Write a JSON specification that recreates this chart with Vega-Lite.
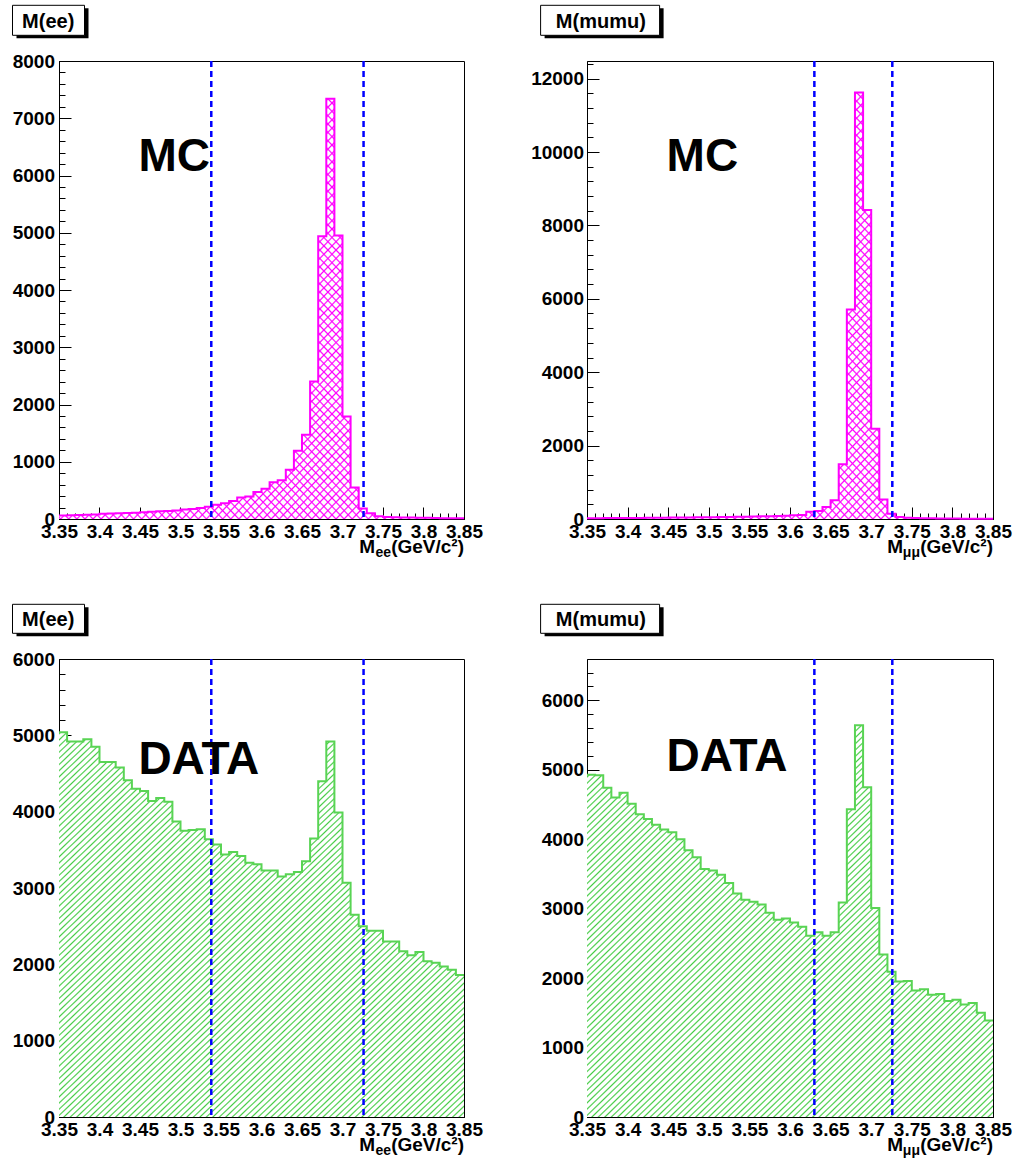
{
"$schema":"https://vega.github.io/schema/vega-lite/v6.json",
"background":"white",
"padding":{"left":11,"top":4,"right":10,"bottom":10},
"params":[
{"name":"gh","value":{"gradient":"linear","x1":0,"y1":0,"x2":1,"y2":1,"stops":[
{"offset":0,"color":"#fff"},{"offset":0.002,"color":"#4c4"},{"offset":0.004,"color":"#fff"},
{"offset":0.008,"color":"#fff"},{"offset":0.01,"color":"#4c4"},{"offset":0.012,"color":"#fff"},
{"offset":0.016,"color":"#fff"},{"offset":0.018,"color":"#4c4"},{"offset":0.02,"color":"#fff"},
{"offset":0.024,"color":"#fff"},{"offset":0.026,"color":"#4c4"},{"offset":0.028,"color":"#fff"},
{"offset":0.032,"color":"#fff"},{"offset":0.034,"color":"#4c4"},{"offset":0.036,"color":"#fff"},
{"offset":0.04,"color":"#fff"},{"offset":0.042,"color":"#4c4"},{"offset":0.044,"color":"#fff"},
{"offset":0.048,"color":"#fff"},{"offset":0.05,"color":"#4c4"},{"offset":0.052,"color":"#fff"},
{"offset":0.056,"color":"#fff"},{"offset":0.058,"color":"#4c4"},{"offset":0.06,"color":"#fff"},
{"offset":0.064,"color":"#fff"},{"offset":0.066,"color":"#4c4"},{"offset":0.068,"color":"#fff"},
{"offset":0.072,"color":"#fff"},{"offset":0.074,"color":"#4c4"},{"offset":0.076,"color":"#fff"},
{"offset":0.08,"color":"#fff"},{"offset":0.082,"color":"#4c4"},{"offset":0.084,"color":"#fff"},
{"offset":0.088,"color":"#fff"},{"offset":0.09,"color":"#4c4"},{"offset":0.092,"color":"#fff"},
{"offset":0.096,"color":"#fff"},{"offset":0.098,"color":"#4c4"},{"offset":0.1,"color":"#fff"},
{"offset":0.104,"color":"#fff"},{"offset":0.106,"color":"#4c4"},{"offset":0.108,"color":"#fff"},
{"offset":0.112,"color":"#fff"},{"offset":0.114,"color":"#4c4"},{"offset":0.116,"color":"#fff"},
{"offset":0.12,"color":"#fff"},{"offset":0.122,"color":"#4c4"},{"offset":0.124,"color":"#fff"},
{"offset":0.128,"color":"#fff"},{"offset":0.13,"color":"#4c4"},{"offset":0.132,"color":"#fff"},
{"offset":0.136,"color":"#fff"},{"offset":0.138,"color":"#4c4"},{"offset":0.14,"color":"#fff"},
{"offset":0.144,"color":"#fff"},{"offset":0.146,"color":"#4c4"},{"offset":0.148,"color":"#fff"},
{"offset":0.152,"color":"#fff"},{"offset":0.154,"color":"#4c4"},{"offset":0.156,"color":"#fff"},
{"offset":0.16,"color":"#fff"},{"offset":0.162,"color":"#4c4"},{"offset":0.164,"color":"#fff"},
{"offset":0.168,"color":"#fff"},{"offset":0.17,"color":"#4c4"},{"offset":0.172,"color":"#fff"},
{"offset":0.176,"color":"#fff"},{"offset":0.178,"color":"#4c4"},{"offset":0.18,"color":"#fff"},
{"offset":0.184,"color":"#fff"},{"offset":0.186,"color":"#4c4"},{"offset":0.188,"color":"#fff"},
{"offset":0.192,"color":"#fff"},{"offset":0.194,"color":"#4c4"},{"offset":0.196,"color":"#fff"},
{"offset":0.2,"color":"#fff"},{"offset":0.202,"color":"#4c4"},{"offset":0.204,"color":"#fff"},
{"offset":0.208,"color":"#fff"},{"offset":0.21,"color":"#4c4"},{"offset":0.212,"color":"#fff"},
{"offset":0.216,"color":"#fff"},{"offset":0.218,"color":"#4c4"},{"offset":0.22,"color":"#fff"},
{"offset":0.224,"color":"#fff"},{"offset":0.226,"color":"#4c4"},{"offset":0.228,"color":"#fff"},
{"offset":0.232,"color":"#fff"},{"offset":0.234,"color":"#4c4"},{"offset":0.236,"color":"#fff"},
{"offset":0.24,"color":"#fff"},{"offset":0.242,"color":"#4c4"},{"offset":0.244,"color":"#fff"},
{"offset":0.248,"color":"#fff"},{"offset":0.25,"color":"#4c4"},{"offset":0.252,"color":"#fff"},
{"offset":0.256,"color":"#fff"},{"offset":0.258,"color":"#4c4"},{"offset":0.26,"color":"#fff"},
{"offset":0.264,"color":"#fff"},{"offset":0.266,"color":"#4c4"},{"offset":0.268,"color":"#fff"},
{"offset":0.272,"color":"#fff"},{"offset":0.274,"color":"#4c4"},{"offset":0.276,"color":"#fff"},
{"offset":0.28,"color":"#fff"},{"offset":0.282,"color":"#4c4"},{"offset":0.284,"color":"#fff"},
{"offset":0.288,"color":"#fff"},{"offset":0.29,"color":"#4c4"},{"offset":0.292,"color":"#fff"},
{"offset":0.296,"color":"#fff"},{"offset":0.298,"color":"#4c4"},{"offset":0.3,"color":"#fff"},
{"offset":0.304,"color":"#fff"},{"offset":0.306,"color":"#4c4"},{"offset":0.308,"color":"#fff"},
{"offset":0.312,"color":"#fff"},{"offset":0.314,"color":"#4c4"},{"offset":0.316,"color":"#fff"},
{"offset":0.32,"color":"#fff"},{"offset":0.322,"color":"#4c4"},{"offset":0.324,"color":"#fff"},
{"offset":0.328,"color":"#fff"},{"offset":0.33,"color":"#4c4"},{"offset":0.332,"color":"#fff"},
{"offset":0.336,"color":"#fff"},{"offset":0.338,"color":"#4c4"},{"offset":0.34,"color":"#fff"},
{"offset":0.344,"color":"#fff"},{"offset":0.346,"color":"#4c4"},{"offset":0.348,"color":"#fff"},
{"offset":0.352,"color":"#fff"},{"offset":0.354,"color":"#4c4"},{"offset":0.356,"color":"#fff"},
{"offset":0.36,"color":"#fff"},{"offset":0.362,"color":"#4c4"},{"offset":0.364,"color":"#fff"},
{"offset":0.368,"color":"#fff"},{"offset":0.37,"color":"#4c4"},{"offset":0.372,"color":"#fff"},
{"offset":0.376,"color":"#fff"},{"offset":0.378,"color":"#4c4"},{"offset":0.38,"color":"#fff"},
{"offset":0.384,"color":"#fff"},{"offset":0.386,"color":"#4c4"},{"offset":0.388,"color":"#fff"},
{"offset":0.392,"color":"#fff"},{"offset":0.394,"color":"#4c4"},{"offset":0.396,"color":"#fff"},
{"offset":0.4,"color":"#fff"},{"offset":0.402,"color":"#4c4"},{"offset":0.404,"color":"#fff"},
{"offset":0.408,"color":"#fff"},{"offset":0.41,"color":"#4c4"},{"offset":0.412,"color":"#fff"},
{"offset":0.416,"color":"#fff"},{"offset":0.418,"color":"#4c4"},{"offset":0.42,"color":"#fff"},
{"offset":0.424,"color":"#fff"},{"offset":0.426,"color":"#4c4"},{"offset":0.428,"color":"#fff"},
{"offset":0.432,"color":"#fff"},{"offset":0.434,"color":"#4c4"},{"offset":0.436,"color":"#fff"},
{"offset":0.44,"color":"#fff"},{"offset":0.442,"color":"#4c4"},{"offset":0.444,"color":"#fff"},
{"offset":0.448,"color":"#fff"},{"offset":0.45,"color":"#4c4"},{"offset":0.452,"color":"#fff"},
{"offset":0.456,"color":"#fff"},{"offset":0.458,"color":"#4c4"},{"offset":0.46,"color":"#fff"},
{"offset":0.464,"color":"#fff"},{"offset":0.466,"color":"#4c4"},{"offset":0.468,"color":"#fff"},
{"offset":0.472,"color":"#fff"},{"offset":0.474,"color":"#4c4"},{"offset":0.476,"color":"#fff"},
{"offset":0.48,"color":"#fff"},{"offset":0.482,"color":"#4c4"},{"offset":0.484,"color":"#fff"},
{"offset":0.488,"color":"#fff"},{"offset":0.49,"color":"#4c4"},{"offset":0.492,"color":"#fff"},
{"offset":0.496,"color":"#fff"},{"offset":0.498,"color":"#4c4"},{"offset":0.5,"color":"#fff"},
{"offset":0.504,"color":"#fff"},{"offset":0.506,"color":"#4c4"},{"offset":0.508,"color":"#fff"},
{"offset":0.512,"color":"#fff"},{"offset":0.514,"color":"#4c4"},{"offset":0.516,"color":"#fff"},
{"offset":0.52,"color":"#fff"},{"offset":0.522,"color":"#4c4"},{"offset":0.524,"color":"#fff"},
{"offset":0.528,"color":"#fff"},{"offset":0.53,"color":"#4c4"},{"offset":0.532,"color":"#fff"},
{"offset":0.536,"color":"#fff"},{"offset":0.538,"color":"#4c4"},{"offset":0.54,"color":"#fff"},
{"offset":0.544,"color":"#fff"},{"offset":0.546,"color":"#4c4"},{"offset":0.548,"color":"#fff"},
{"offset":0.552,"color":"#fff"},{"offset":0.554,"color":"#4c4"},{"offset":0.556,"color":"#fff"},
{"offset":0.56,"color":"#fff"},{"offset":0.562,"color":"#4c4"},{"offset":0.564,"color":"#fff"},
{"offset":0.568,"color":"#fff"},{"offset":0.57,"color":"#4c4"},{"offset":0.572,"color":"#fff"},
{"offset":0.576,"color":"#fff"},{"offset":0.578,"color":"#4c4"},{"offset":0.58,"color":"#fff"},
{"offset":0.584,"color":"#fff"},{"offset":0.586,"color":"#4c4"},{"offset":0.588,"color":"#fff"},
{"offset":0.592,"color":"#fff"},{"offset":0.594,"color":"#4c4"},{"offset":0.596,"color":"#fff"},
{"offset":0.6,"color":"#fff"},{"offset":0.602,"color":"#4c4"},{"offset":0.604,"color":"#fff"},
{"offset":0.608,"color":"#fff"},{"offset":0.61,"color":"#4c4"},{"offset":0.612,"color":"#fff"},
{"offset":0.616,"color":"#fff"},{"offset":0.618,"color":"#4c4"},{"offset":0.62,"color":"#fff"},
{"offset":0.624,"color":"#fff"},{"offset":0.626,"color":"#4c4"},{"offset":0.628,"color":"#fff"},
{"offset":0.632,"color":"#fff"},{"offset":0.634,"color":"#4c4"},{"offset":0.636,"color":"#fff"},
{"offset":0.64,"color":"#fff"},{"offset":0.642,"color":"#4c4"},{"offset":0.644,"color":"#fff"},
{"offset":0.648,"color":"#fff"},{"offset":0.65,"color":"#4c4"},{"offset":0.652,"color":"#fff"},
{"offset":0.656,"color":"#fff"},{"offset":0.658,"color":"#4c4"},{"offset":0.66,"color":"#fff"},
{"offset":0.664,"color":"#fff"},{"offset":0.666,"color":"#4c4"},{"offset":0.668,"color":"#fff"},
{"offset":0.672,"color":"#fff"},{"offset":0.674,"color":"#4c4"},{"offset":0.676,"color":"#fff"},
{"offset":0.68,"color":"#fff"},{"offset":0.682,"color":"#4c4"},{"offset":0.684,"color":"#fff"},
{"offset":0.688,"color":"#fff"},{"offset":0.69,"color":"#4c4"},{"offset":0.692,"color":"#fff"},
{"offset":0.696,"color":"#fff"},{"offset":0.698,"color":"#4c4"},{"offset":0.7,"color":"#fff"},
{"offset":0.704,"color":"#fff"},{"offset":0.706,"color":"#4c4"},{"offset":0.708,"color":"#fff"},
{"offset":0.712,"color":"#fff"},{"offset":0.714,"color":"#4c4"},{"offset":0.716,"color":"#fff"},
{"offset":0.72,"color":"#fff"},{"offset":0.722,"color":"#4c4"},{"offset":0.724,"color":"#fff"},
{"offset":0.728,"color":"#fff"},{"offset":0.73,"color":"#4c4"},{"offset":0.732,"color":"#fff"},
{"offset":0.736,"color":"#fff"},{"offset":0.738,"color":"#4c4"},{"offset":0.74,"color":"#fff"},
{"offset":0.744,"color":"#fff"},{"offset":0.746,"color":"#4c4"},{"offset":0.748,"color":"#fff"},
{"offset":0.752,"color":"#fff"},{"offset":0.754,"color":"#4c4"},{"offset":0.756,"color":"#fff"},
{"offset":0.76,"color":"#fff"},{"offset":0.762,"color":"#4c4"},{"offset":0.764,"color":"#fff"},
{"offset":0.768,"color":"#fff"},{"offset":0.77,"color":"#4c4"},{"offset":0.772,"color":"#fff"},
{"offset":0.776,"color":"#fff"},{"offset":0.778,"color":"#4c4"},{"offset":0.78,"color":"#fff"},
{"offset":0.784,"color":"#fff"},{"offset":0.786,"color":"#4c4"},{"offset":0.788,"color":"#fff"},
{"offset":0.792,"color":"#fff"},{"offset":0.794,"color":"#4c4"},{"offset":0.796,"color":"#fff"},
{"offset":0.8,"color":"#fff"},{"offset":0.802,"color":"#4c4"},{"offset":0.804,"color":"#fff"},
{"offset":0.808,"color":"#fff"},{"offset":0.81,"color":"#4c4"},{"offset":0.812,"color":"#fff"},
{"offset":0.816,"color":"#fff"},{"offset":0.818,"color":"#4c4"},{"offset":0.82,"color":"#fff"},
{"offset":0.824,"color":"#fff"},{"offset":0.826,"color":"#4c4"},{"offset":0.828,"color":"#fff"},
{"offset":0.832,"color":"#fff"},{"offset":0.834,"color":"#4c4"},{"offset":0.836,"color":"#fff"},
{"offset":0.84,"color":"#fff"},{"offset":0.842,"color":"#4c4"},{"offset":0.844,"color":"#fff"},
{"offset":0.848,"color":"#fff"},{"offset":0.85,"color":"#4c4"},{"offset":0.852,"color":"#fff"},
{"offset":0.856,"color":"#fff"},{"offset":0.858,"color":"#4c4"},{"offset":0.86,"color":"#fff"},
{"offset":0.864,"color":"#fff"},{"offset":0.866,"color":"#4c4"},{"offset":0.868,"color":"#fff"},
{"offset":0.872,"color":"#fff"},{"offset":0.874,"color":"#4c4"},{"offset":0.876,"color":"#fff"},
{"offset":0.88,"color":"#fff"},{"offset":0.882,"color":"#4c4"},{"offset":0.884,"color":"#fff"},
{"offset":0.888,"color":"#fff"},{"offset":0.89,"color":"#4c4"},{"offset":0.892,"color":"#fff"},
{"offset":0.896,"color":"#fff"},{"offset":0.898,"color":"#4c4"},{"offset":0.9,"color":"#fff"},
{"offset":0.904,"color":"#fff"},{"offset":0.906,"color":"#4c4"},{"offset":0.908,"color":"#fff"},
{"offset":0.912,"color":"#fff"},{"offset":0.914,"color":"#4c4"},{"offset":0.916,"color":"#fff"},
{"offset":0.92,"color":"#fff"},{"offset":0.922,"color":"#4c4"},{"offset":0.924,"color":"#fff"},
{"offset":0.928,"color":"#fff"},{"offset":0.93,"color":"#4c4"},{"offset":0.932,"color":"#fff"},
{"offset":0.936,"color":"#fff"},{"offset":0.938,"color":"#4c4"},{"offset":0.94,"color":"#fff"},
{"offset":0.944,"color":"#fff"},{"offset":0.946,"color":"#4c4"},{"offset":0.948,"color":"#fff"},
{"offset":0.952,"color":"#fff"},{"offset":0.954,"color":"#4c4"},{"offset":0.956,"color":"#fff"},
{"offset":0.96,"color":"#fff"},{"offset":0.962,"color":"#4c4"},{"offset":0.964,"color":"#fff"},
{"offset":0.968,"color":"#fff"},{"offset":0.97,"color":"#4c4"},{"offset":0.972,"color":"#fff"},
{"offset":0.976,"color":"#fff"},{"offset":0.978,"color":"#4c4"},{"offset":0.98,"color":"#fff"},
{"offset":0.984,"color":"#fff"},{"offset":0.986,"color":"#4c4"},{"offset":0.988,"color":"#fff"},
{"offset":0.992,"color":"#fff"},{"offset":0.994,"color":"#4c4"},{"offset":0.996,"color":"#fff"}
]}},
{"name":"m1","value":{"gradient":"linear","x1":0,"y1":0,"x2":1,"y2":1,"stops":[
{"offset":0,"color":"#fff"},{"offset":0.002,"color":"#f0f"},{"offset":0.004,"color":"#fff"},
{"offset":0.01,"color":"#fff"},{"offset":0.012,"color":"#f0f"},{"offset":0.014,"color":"#fff"},
{"offset":0.02,"color":"#fff"},{"offset":0.022,"color":"#f0f"},{"offset":0.024,"color":"#fff"},
{"offset":0.03,"color":"#fff"},{"offset":0.032,"color":"#f0f"},{"offset":0.034,"color":"#fff"},
{"offset":0.04,"color":"#fff"},{"offset":0.042,"color":"#f0f"},{"offset":0.044,"color":"#fff"},
{"offset":0.05,"color":"#fff"},{"offset":0.052,"color":"#f0f"},{"offset":0.054,"color":"#fff"},
{"offset":0.06,"color":"#fff"},{"offset":0.062,"color":"#f0f"},{"offset":0.064,"color":"#fff"},
{"offset":0.07,"color":"#fff"},{"offset":0.072,"color":"#f0f"},{"offset":0.074,"color":"#fff"},
{"offset":0.08,"color":"#fff"},{"offset":0.082,"color":"#f0f"},{"offset":0.084,"color":"#fff"},
{"offset":0.09,"color":"#fff"},{"offset":0.092,"color":"#f0f"},{"offset":0.094,"color":"#fff"},
{"offset":0.1,"color":"#fff"},{"offset":0.102,"color":"#f0f"},{"offset":0.104,"color":"#fff"},
{"offset":0.11,"color":"#fff"},{"offset":0.112,"color":"#f0f"},{"offset":0.114,"color":"#fff"},
{"offset":0.12,"color":"#fff"},{"offset":0.122,"color":"#f0f"},{"offset":0.124,"color":"#fff"},
{"offset":0.13,"color":"#fff"},{"offset":0.132,"color":"#f0f"},{"offset":0.134,"color":"#fff"},
{"offset":0.14,"color":"#fff"},{"offset":0.142,"color":"#f0f"},{"offset":0.144,"color":"#fff"},
{"offset":0.15,"color":"#fff"},{"offset":0.152,"color":"#f0f"},{"offset":0.154,"color":"#fff"},
{"offset":0.16,"color":"#fff"},{"offset":0.162,"color":"#f0f"},{"offset":0.164,"color":"#fff"},
{"offset":0.17,"color":"#fff"},{"offset":0.172,"color":"#f0f"},{"offset":0.174,"color":"#fff"},
{"offset":0.18,"color":"#fff"},{"offset":0.182,"color":"#f0f"},{"offset":0.184,"color":"#fff"},
{"offset":0.19,"color":"#fff"},{"offset":0.192,"color":"#f0f"},{"offset":0.194,"color":"#fff"},
{"offset":0.2,"color":"#fff"},{"offset":0.202,"color":"#f0f"},{"offset":0.204,"color":"#fff"},
{"offset":0.21,"color":"#fff"},{"offset":0.212,"color":"#f0f"},{"offset":0.214,"color":"#fff"},
{"offset":0.22,"color":"#fff"},{"offset":0.222,"color":"#f0f"},{"offset":0.224,"color":"#fff"},
{"offset":0.23,"color":"#fff"},{"offset":0.232,"color":"#f0f"},{"offset":0.234,"color":"#fff"},
{"offset":0.24,"color":"#fff"},{"offset":0.242,"color":"#f0f"},{"offset":0.244,"color":"#fff"},
{"offset":0.25,"color":"#fff"},{"offset":0.252,"color":"#f0f"},{"offset":0.254,"color":"#fff"},
{"offset":0.26,"color":"#fff"},{"offset":0.262,"color":"#f0f"},{"offset":0.264,"color":"#fff"},
{"offset":0.27,"color":"#fff"},{"offset":0.272,"color":"#f0f"},{"offset":0.274,"color":"#fff"},
{"offset":0.28,"color":"#fff"},{"offset":0.282,"color":"#f0f"},{"offset":0.284,"color":"#fff"},
{"offset":0.29,"color":"#fff"},{"offset":0.292,"color":"#f0f"},{"offset":0.294,"color":"#fff"},
{"offset":0.3,"color":"#fff"},{"offset":0.302,"color":"#f0f"},{"offset":0.304,"color":"#fff"},
{"offset":0.31,"color":"#fff"},{"offset":0.312,"color":"#f0f"},{"offset":0.314,"color":"#fff"},
{"offset":0.32,"color":"#fff"},{"offset":0.322,"color":"#f0f"},{"offset":0.324,"color":"#fff"},
{"offset":0.33,"color":"#fff"},{"offset":0.332,"color":"#f0f"},{"offset":0.334,"color":"#fff"},
{"offset":0.34,"color":"#fff"},{"offset":0.342,"color":"#f0f"},{"offset":0.344,"color":"#fff"},
{"offset":0.35,"color":"#fff"},{"offset":0.352,"color":"#f0f"},{"offset":0.354,"color":"#fff"},
{"offset":0.36,"color":"#fff"},{"offset":0.362,"color":"#f0f"},{"offset":0.364,"color":"#fff"},
{"offset":0.37,"color":"#fff"},{"offset":0.372,"color":"#f0f"},{"offset":0.374,"color":"#fff"},
{"offset":0.38,"color":"#fff"},{"offset":0.382,"color":"#f0f"},{"offset":0.384,"color":"#fff"},
{"offset":0.39,"color":"#fff"},{"offset":0.392,"color":"#f0f"},{"offset":0.394,"color":"#fff"},
{"offset":0.4,"color":"#fff"},{"offset":0.402,"color":"#f0f"},{"offset":0.404,"color":"#fff"},
{"offset":0.41,"color":"#fff"},{"offset":0.412,"color":"#f0f"},{"offset":0.414,"color":"#fff"},
{"offset":0.42,"color":"#fff"},{"offset":0.422,"color":"#f0f"},{"offset":0.424,"color":"#fff"},
{"offset":0.43,"color":"#fff"},{"offset":0.432,"color":"#f0f"},{"offset":0.434,"color":"#fff"},
{"offset":0.44,"color":"#fff"},{"offset":0.442,"color":"#f0f"},{"offset":0.444,"color":"#fff"},
{"offset":0.45,"color":"#fff"},{"offset":0.452,"color":"#f0f"},{"offset":0.454,"color":"#fff"},
{"offset":0.46,"color":"#fff"},{"offset":0.462,"color":"#f0f"},{"offset":0.464,"color":"#fff"},
{"offset":0.47,"color":"#fff"},{"offset":0.472,"color":"#f0f"},{"offset":0.474,"color":"#fff"},
{"offset":0.48,"color":"#fff"},{"offset":0.482,"color":"#f0f"},{"offset":0.484,"color":"#fff"},
{"offset":0.49,"color":"#fff"},{"offset":0.492,"color":"#f0f"},{"offset":0.494,"color":"#fff"},
{"offset":0.5,"color":"#fff"},{"offset":0.502,"color":"#f0f"},{"offset":0.504,"color":"#fff"},
{"offset":0.51,"color":"#fff"},{"offset":0.512,"color":"#f0f"},{"offset":0.514,"color":"#fff"},
{"offset":0.52,"color":"#fff"},{"offset":0.522,"color":"#f0f"},{"offset":0.524,"color":"#fff"},
{"offset":0.53,"color":"#fff"},{"offset":0.532,"color":"#f0f"},{"offset":0.534,"color":"#fff"},
{"offset":0.54,"color":"#fff"},{"offset":0.542,"color":"#f0f"},{"offset":0.544,"color":"#fff"},
{"offset":0.55,"color":"#fff"},{"offset":0.552,"color":"#f0f"},{"offset":0.554,"color":"#fff"},
{"offset":0.56,"color":"#fff"},{"offset":0.562,"color":"#f0f"},{"offset":0.564,"color":"#fff"},
{"offset":0.57,"color":"#fff"},{"offset":0.572,"color":"#f0f"},{"offset":0.574,"color":"#fff"},
{"offset":0.58,"color":"#fff"},{"offset":0.582,"color":"#f0f"},{"offset":0.584,"color":"#fff"},
{"offset":0.59,"color":"#fff"},{"offset":0.592,"color":"#f0f"},{"offset":0.594,"color":"#fff"},
{"offset":0.6,"color":"#fff"},{"offset":0.602,"color":"#f0f"},{"offset":0.604,"color":"#fff"},
{"offset":0.61,"color":"#fff"},{"offset":0.612,"color":"#f0f"},{"offset":0.614,"color":"#fff"},
{"offset":0.62,"color":"#fff"},{"offset":0.622,"color":"#f0f"},{"offset":0.624,"color":"#fff"},
{"offset":0.63,"color":"#fff"},{"offset":0.632,"color":"#f0f"},{"offset":0.634,"color":"#fff"},
{"offset":0.64,"color":"#fff"},{"offset":0.642,"color":"#f0f"},{"offset":0.644,"color":"#fff"},
{"offset":0.65,"color":"#fff"},{"offset":0.652,"color":"#f0f"},{"offset":0.654,"color":"#fff"},
{"offset":0.66,"color":"#fff"},{"offset":0.662,"color":"#f0f"},{"offset":0.664,"color":"#fff"},
{"offset":0.67,"color":"#fff"},{"offset":0.672,"color":"#f0f"},{"offset":0.674,"color":"#fff"},
{"offset":0.68,"color":"#fff"},{"offset":0.682,"color":"#f0f"},{"offset":0.684,"color":"#fff"},
{"offset":0.69,"color":"#fff"},{"offset":0.692,"color":"#f0f"},{"offset":0.694,"color":"#fff"},
{"offset":0.7,"color":"#fff"},{"offset":0.702,"color":"#f0f"},{"offset":0.704,"color":"#fff"},
{"offset":0.71,"color":"#fff"},{"offset":0.712,"color":"#f0f"},{"offset":0.714,"color":"#fff"},
{"offset":0.72,"color":"#fff"},{"offset":0.722,"color":"#f0f"},{"offset":0.724,"color":"#fff"},
{"offset":0.73,"color":"#fff"},{"offset":0.732,"color":"#f0f"},{"offset":0.734,"color":"#fff"},
{"offset":0.74,"color":"#fff"},{"offset":0.742,"color":"#f0f"},{"offset":0.744,"color":"#fff"},
{"offset":0.75,"color":"#fff"},{"offset":0.752,"color":"#f0f"},{"offset":0.754,"color":"#fff"},
{"offset":0.76,"color":"#fff"},{"offset":0.762,"color":"#f0f"},{"offset":0.764,"color":"#fff"},
{"offset":0.77,"color":"#fff"},{"offset":0.772,"color":"#f0f"},{"offset":0.774,"color":"#fff"},
{"offset":0.78,"color":"#fff"},{"offset":0.782,"color":"#f0f"},{"offset":0.784,"color":"#fff"},
{"offset":0.79,"color":"#fff"},{"offset":0.792,"color":"#f0f"},{"offset":0.794,"color":"#fff"},
{"offset":0.8,"color":"#fff"},{"offset":0.802,"color":"#f0f"},{"offset":0.804,"color":"#fff"},
{"offset":0.81,"color":"#fff"},{"offset":0.812,"color":"#f0f"},{"offset":0.814,"color":"#fff"},
{"offset":0.82,"color":"#fff"},{"offset":0.822,"color":"#f0f"},{"offset":0.824,"color":"#fff"},
{"offset":0.83,"color":"#fff"},{"offset":0.832,"color":"#f0f"},{"offset":0.834,"color":"#fff"},
{"offset":0.84,"color":"#fff"},{"offset":0.842,"color":"#f0f"},{"offset":0.844,"color":"#fff"},
{"offset":0.85,"color":"#fff"},{"offset":0.852,"color":"#f0f"},{"offset":0.854,"color":"#fff"},
{"offset":0.86,"color":"#fff"},{"offset":0.862,"color":"#f0f"},{"offset":0.864,"color":"#fff"},
{"offset":0.87,"color":"#fff"},{"offset":0.872,"color":"#f0f"},{"offset":0.874,"color":"#fff"},
{"offset":0.88,"color":"#fff"},{"offset":0.882,"color":"#f0f"},{"offset":0.884,"color":"#fff"},
{"offset":0.89,"color":"#fff"},{"offset":0.892,"color":"#f0f"},{"offset":0.894,"color":"#fff"},
{"offset":0.9,"color":"#fff"},{"offset":0.902,"color":"#f0f"},{"offset":0.904,"color":"#fff"},
{"offset":0.91,"color":"#fff"},{"offset":0.912,"color":"#f0f"},{"offset":0.914,"color":"#fff"},
{"offset":0.92,"color":"#fff"},{"offset":0.922,"color":"#f0f"},{"offset":0.924,"color":"#fff"},
{"offset":0.93,"color":"#fff"},{"offset":0.932,"color":"#f0f"},{"offset":0.934,"color":"#fff"},
{"offset":0.94,"color":"#fff"},{"offset":0.942,"color":"#f0f"},{"offset":0.944,"color":"#fff"},
{"offset":0.95,"color":"#fff"},{"offset":0.952,"color":"#f0f"},{"offset":0.954,"color":"#fff"},
{"offset":0.96,"color":"#fff"},{"offset":0.962,"color":"#f0f"},{"offset":0.964,"color":"#fff"},
{"offset":0.97,"color":"#fff"},{"offset":0.972,"color":"#f0f"},{"offset":0.974,"color":"#fff"},
{"offset":0.98,"color":"#fff"},{"offset":0.982,"color":"#f0f"},{"offset":0.984,"color":"#fff"},
{"offset":0.99,"color":"#fff"},{"offset":0.992,"color":"#f0f"},{"offset":0.994,"color":"#fff"}
]}},
{"name":"m2","value":{"gradient":"linear","x1":0,"y1":1,"x2":1,"y2":0,"stops":[
{"offset":0,"color":"#f0f0"},{"offset":0.002,"color":"#f0f"},{"offset":0.004,"color":"#f0f0"},
{"offset":0.01,"color":"#f0f0"},{"offset":0.012,"color":"#f0f"},{"offset":0.014,"color":"#f0f0"},
{"offset":0.02,"color":"#f0f0"},{"offset":0.022,"color":"#f0f"},{"offset":0.024,"color":"#f0f0"},
{"offset":0.03,"color":"#f0f0"},{"offset":0.032,"color":"#f0f"},{"offset":0.034,"color":"#f0f0"},
{"offset":0.04,"color":"#f0f0"},{"offset":0.042,"color":"#f0f"},{"offset":0.044,"color":"#f0f0"},
{"offset":0.05,"color":"#f0f0"},{"offset":0.052,"color":"#f0f"},{"offset":0.054,"color":"#f0f0"},
{"offset":0.06,"color":"#f0f0"},{"offset":0.062,"color":"#f0f"},{"offset":0.064,"color":"#f0f0"},
{"offset":0.07,"color":"#f0f0"},{"offset":0.072,"color":"#f0f"},{"offset":0.074,"color":"#f0f0"},
{"offset":0.08,"color":"#f0f0"},{"offset":0.082,"color":"#f0f"},{"offset":0.084,"color":"#f0f0"},
{"offset":0.09,"color":"#f0f0"},{"offset":0.092,"color":"#f0f"},{"offset":0.094,"color":"#f0f0"},
{"offset":0.1,"color":"#f0f0"},{"offset":0.102,"color":"#f0f"},{"offset":0.104,"color":"#f0f0"},
{"offset":0.11,"color":"#f0f0"},{"offset":0.112,"color":"#f0f"},{"offset":0.114,"color":"#f0f0"},
{"offset":0.12,"color":"#f0f0"},{"offset":0.122,"color":"#f0f"},{"offset":0.124,"color":"#f0f0"},
{"offset":0.13,"color":"#f0f0"},{"offset":0.132,"color":"#f0f"},{"offset":0.134,"color":"#f0f0"},
{"offset":0.14,"color":"#f0f0"},{"offset":0.142,"color":"#f0f"},{"offset":0.144,"color":"#f0f0"},
{"offset":0.15,"color":"#f0f0"},{"offset":0.152,"color":"#f0f"},{"offset":0.154,"color":"#f0f0"},
{"offset":0.16,"color":"#f0f0"},{"offset":0.162,"color":"#f0f"},{"offset":0.164,"color":"#f0f0"},
{"offset":0.17,"color":"#f0f0"},{"offset":0.172,"color":"#f0f"},{"offset":0.174,"color":"#f0f0"},
{"offset":0.18,"color":"#f0f0"},{"offset":0.182,"color":"#f0f"},{"offset":0.184,"color":"#f0f0"},
{"offset":0.19,"color":"#f0f0"},{"offset":0.192,"color":"#f0f"},{"offset":0.194,"color":"#f0f0"},
{"offset":0.2,"color":"#f0f0"},{"offset":0.202,"color":"#f0f"},{"offset":0.204,"color":"#f0f0"},
{"offset":0.21,"color":"#f0f0"},{"offset":0.212,"color":"#f0f"},{"offset":0.214,"color":"#f0f0"},
{"offset":0.22,"color":"#f0f0"},{"offset":0.222,"color":"#f0f"},{"offset":0.224,"color":"#f0f0"},
{"offset":0.23,"color":"#f0f0"},{"offset":0.232,"color":"#f0f"},{"offset":0.234,"color":"#f0f0"},
{"offset":0.24,"color":"#f0f0"},{"offset":0.242,"color":"#f0f"},{"offset":0.244,"color":"#f0f0"},
{"offset":0.25,"color":"#f0f0"},{"offset":0.252,"color":"#f0f"},{"offset":0.254,"color":"#f0f0"},
{"offset":0.26,"color":"#f0f0"},{"offset":0.262,"color":"#f0f"},{"offset":0.264,"color":"#f0f0"},
{"offset":0.27,"color":"#f0f0"},{"offset":0.272,"color":"#f0f"},{"offset":0.274,"color":"#f0f0"},
{"offset":0.28,"color":"#f0f0"},{"offset":0.282,"color":"#f0f"},{"offset":0.284,"color":"#f0f0"},
{"offset":0.29,"color":"#f0f0"},{"offset":0.292,"color":"#f0f"},{"offset":0.294,"color":"#f0f0"},
{"offset":0.3,"color":"#f0f0"},{"offset":0.302,"color":"#f0f"},{"offset":0.304,"color":"#f0f0"},
{"offset":0.31,"color":"#f0f0"},{"offset":0.312,"color":"#f0f"},{"offset":0.314,"color":"#f0f0"},
{"offset":0.32,"color":"#f0f0"},{"offset":0.322,"color":"#f0f"},{"offset":0.324,"color":"#f0f0"},
{"offset":0.33,"color":"#f0f0"},{"offset":0.332,"color":"#f0f"},{"offset":0.334,"color":"#f0f0"},
{"offset":0.34,"color":"#f0f0"},{"offset":0.342,"color":"#f0f"},{"offset":0.344,"color":"#f0f0"},
{"offset":0.35,"color":"#f0f0"},{"offset":0.352,"color":"#f0f"},{"offset":0.354,"color":"#f0f0"},
{"offset":0.36,"color":"#f0f0"},{"offset":0.362,"color":"#f0f"},{"offset":0.364,"color":"#f0f0"},
{"offset":0.37,"color":"#f0f0"},{"offset":0.372,"color":"#f0f"},{"offset":0.374,"color":"#f0f0"},
{"offset":0.38,"color":"#f0f0"},{"offset":0.382,"color":"#f0f"},{"offset":0.384,"color":"#f0f0"},
{"offset":0.39,"color":"#f0f0"},{"offset":0.392,"color":"#f0f"},{"offset":0.394,"color":"#f0f0"},
{"offset":0.4,"color":"#f0f0"},{"offset":0.402,"color":"#f0f"},{"offset":0.404,"color":"#f0f0"},
{"offset":0.41,"color":"#f0f0"},{"offset":0.412,"color":"#f0f"},{"offset":0.414,"color":"#f0f0"},
{"offset":0.42,"color":"#f0f0"},{"offset":0.422,"color":"#f0f"},{"offset":0.424,"color":"#f0f0"},
{"offset":0.43,"color":"#f0f0"},{"offset":0.432,"color":"#f0f"},{"offset":0.434,"color":"#f0f0"},
{"offset":0.44,"color":"#f0f0"},{"offset":0.442,"color":"#f0f"},{"offset":0.444,"color":"#f0f0"},
{"offset":0.45,"color":"#f0f0"},{"offset":0.452,"color":"#f0f"},{"offset":0.454,"color":"#f0f0"},
{"offset":0.46,"color":"#f0f0"},{"offset":0.462,"color":"#f0f"},{"offset":0.464,"color":"#f0f0"},
{"offset":0.47,"color":"#f0f0"},{"offset":0.472,"color":"#f0f"},{"offset":0.474,"color":"#f0f0"},
{"offset":0.48,"color":"#f0f0"},{"offset":0.482,"color":"#f0f"},{"offset":0.484,"color":"#f0f0"},
{"offset":0.49,"color":"#f0f0"},{"offset":0.492,"color":"#f0f"},{"offset":0.494,"color":"#f0f0"},
{"offset":0.5,"color":"#f0f0"},{"offset":0.502,"color":"#f0f"},{"offset":0.504,"color":"#f0f0"},
{"offset":0.51,"color":"#f0f0"},{"offset":0.512,"color":"#f0f"},{"offset":0.514,"color":"#f0f0"},
{"offset":0.52,"color":"#f0f0"},{"offset":0.522,"color":"#f0f"},{"offset":0.524,"color":"#f0f0"},
{"offset":0.53,"color":"#f0f0"},{"offset":0.532,"color":"#f0f"},{"offset":0.534,"color":"#f0f0"},
{"offset":0.54,"color":"#f0f0"},{"offset":0.542,"color":"#f0f"},{"offset":0.544,"color":"#f0f0"},
{"offset":0.55,"color":"#f0f0"},{"offset":0.552,"color":"#f0f"},{"offset":0.554,"color":"#f0f0"},
{"offset":0.56,"color":"#f0f0"},{"offset":0.562,"color":"#f0f"},{"offset":0.564,"color":"#f0f0"},
{"offset":0.57,"color":"#f0f0"},{"offset":0.572,"color":"#f0f"},{"offset":0.574,"color":"#f0f0"},
{"offset":0.58,"color":"#f0f0"},{"offset":0.582,"color":"#f0f"},{"offset":0.584,"color":"#f0f0"},
{"offset":0.59,"color":"#f0f0"},{"offset":0.592,"color":"#f0f"},{"offset":0.594,"color":"#f0f0"},
{"offset":0.6,"color":"#f0f0"},{"offset":0.602,"color":"#f0f"},{"offset":0.604,"color":"#f0f0"},
{"offset":0.61,"color":"#f0f0"},{"offset":0.612,"color":"#f0f"},{"offset":0.614,"color":"#f0f0"},
{"offset":0.62,"color":"#f0f0"},{"offset":0.622,"color":"#f0f"},{"offset":0.624,"color":"#f0f0"},
{"offset":0.63,"color":"#f0f0"},{"offset":0.632,"color":"#f0f"},{"offset":0.634,"color":"#f0f0"},
{"offset":0.64,"color":"#f0f0"},{"offset":0.642,"color":"#f0f"},{"offset":0.644,"color":"#f0f0"},
{"offset":0.65,"color":"#f0f0"},{"offset":0.652,"color":"#f0f"},{"offset":0.654,"color":"#f0f0"},
{"offset":0.66,"color":"#f0f0"},{"offset":0.662,"color":"#f0f"},{"offset":0.664,"color":"#f0f0"},
{"offset":0.67,"color":"#f0f0"},{"offset":0.672,"color":"#f0f"},{"offset":0.674,"color":"#f0f0"},
{"offset":0.68,"color":"#f0f0"},{"offset":0.682,"color":"#f0f"},{"offset":0.684,"color":"#f0f0"},
{"offset":0.69,"color":"#f0f0"},{"offset":0.692,"color":"#f0f"},{"offset":0.694,"color":"#f0f0"},
{"offset":0.7,"color":"#f0f0"},{"offset":0.702,"color":"#f0f"},{"offset":0.704,"color":"#f0f0"},
{"offset":0.71,"color":"#f0f0"},{"offset":0.712,"color":"#f0f"},{"offset":0.714,"color":"#f0f0"},
{"offset":0.72,"color":"#f0f0"},{"offset":0.722,"color":"#f0f"},{"offset":0.724,"color":"#f0f0"},
{"offset":0.73,"color":"#f0f0"},{"offset":0.732,"color":"#f0f"},{"offset":0.734,"color":"#f0f0"},
{"offset":0.74,"color":"#f0f0"},{"offset":0.742,"color":"#f0f"},{"offset":0.744,"color":"#f0f0"},
{"offset":0.75,"color":"#f0f0"},{"offset":0.752,"color":"#f0f"},{"offset":0.754,"color":"#f0f0"},
{"offset":0.76,"color":"#f0f0"},{"offset":0.762,"color":"#f0f"},{"offset":0.764,"color":"#f0f0"},
{"offset":0.77,"color":"#f0f0"},{"offset":0.772,"color":"#f0f"},{"offset":0.774,"color":"#f0f0"},
{"offset":0.78,"color":"#f0f0"},{"offset":0.782,"color":"#f0f"},{"offset":0.784,"color":"#f0f0"},
{"offset":0.79,"color":"#f0f0"},{"offset":0.792,"color":"#f0f"},{"offset":0.794,"color":"#f0f0"},
{"offset":0.8,"color":"#f0f0"},{"offset":0.802,"color":"#f0f"},{"offset":0.804,"color":"#f0f0"},
{"offset":0.81,"color":"#f0f0"},{"offset":0.812,"color":"#f0f"},{"offset":0.814,"color":"#f0f0"},
{"offset":0.82,"color":"#f0f0"},{"offset":0.822,"color":"#f0f"},{"offset":0.824,"color":"#f0f0"},
{"offset":0.83,"color":"#f0f0"},{"offset":0.832,"color":"#f0f"},{"offset":0.834,"color":"#f0f0"},
{"offset":0.84,"color":"#f0f0"},{"offset":0.842,"color":"#f0f"},{"offset":0.844,"color":"#f0f0"},
{"offset":0.85,"color":"#f0f0"},{"offset":0.852,"color":"#f0f"},{"offset":0.854,"color":"#f0f0"},
{"offset":0.86,"color":"#f0f0"},{"offset":0.862,"color":"#f0f"},{"offset":0.864,"color":"#f0f0"},
{"offset":0.87,"color":"#f0f0"},{"offset":0.872,"color":"#f0f"},{"offset":0.874,"color":"#f0f0"},
{"offset":0.88,"color":"#f0f0"},{"offset":0.882,"color":"#f0f"},{"offset":0.884,"color":"#f0f0"},
{"offset":0.89,"color":"#f0f0"},{"offset":0.892,"color":"#f0f"},{"offset":0.894,"color":"#f0f0"},
{"offset":0.9,"color":"#f0f0"},{"offset":0.902,"color":"#f0f"},{"offset":0.904,"color":"#f0f0"},
{"offset":0.91,"color":"#f0f0"},{"offset":0.912,"color":"#f0f"},{"offset":0.914,"color":"#f0f0"},
{"offset":0.92,"color":"#f0f0"},{"offset":0.922,"color":"#f0f"},{"offset":0.924,"color":"#f0f0"},
{"offset":0.93,"color":"#f0f0"},{"offset":0.932,"color":"#f0f"},{"offset":0.934,"color":"#f0f0"},
{"offset":0.94,"color":"#f0f0"},{"offset":0.942,"color":"#f0f"},{"offset":0.944,"color":"#f0f0"},
{"offset":0.95,"color":"#f0f0"},{"offset":0.952,"color":"#f0f"},{"offset":0.954,"color":"#f0f0"},
{"offset":0.96,"color":"#f0f0"},{"offset":0.962,"color":"#f0f"},{"offset":0.964,"color":"#f0f0"},
{"offset":0.97,"color":"#f0f0"},{"offset":0.972,"color":"#f0f"},{"offset":0.974,"color":"#f0f0"},
{"offset":0.98,"color":"#f0f0"},{"offset":0.982,"color":"#f0f"},{"offset":0.984,"color":"#f0f0"},
{"offset":0.99,"color":"#f0f0"},{"offset":0.992,"color":"#f0f"},{"offset":0.994,"color":"#f0f0"}
]}}
],
"config":{
"view":{"stroke":"black","strokeWidth":1},
"axis":{"zindex":1,"grid":false,"domainColor":"black","domainWidth":1,"tickColor":"black","tickWidth":1,"labelColor":"black","labelFont":"Liberation Sans","labelFontSize":19,"labelFontWeight":"bold","labelOverlap":false,"labelFlush":false,"labelBound":false},
"text":{"font":"Liberation Sans","fontWeight":"bold","color":"black"}
},
"datasets":{
"mcee":[{"lo":3.35,"hi":3.36,"n":60},{"lo":3.36,"hi":3.37,"n":65},{"lo":3.37,"hi":3.38,"n":70},{"lo":3.38,"hi":3.39,"n":75},{"lo":3.39,"hi":3.4,"n":80},{"lo":3.4,"hi":3.41,"n":90},{"lo":3.41,"hi":3.42,"n":95},{"lo":3.42,"hi":3.43,"n":100},{"lo":3.43,"hi":3.44,"n":105},{"lo":3.44,"hi":3.45,"n":110},{"lo":3.45,"hi":3.46,"n":120},{"lo":3.46,"hi":3.47,"n":125},{"lo":3.47,"hi":3.48,"n":135},{"lo":3.48,"hi":3.49,"n":140},{"lo":3.49,"hi":3.5,"n":150},{"lo":3.5,"hi":3.51,"n":165},{"lo":3.51,"hi":3.52,"n":175},{"lo":3.52,"hi":3.53,"n":190},{"lo":3.53,"hi":3.54,"n":215},{"lo":3.54,"hi":3.55,"n":250},{"lo":3.55,"hi":3.56,"n":275},{"lo":3.56,"hi":3.57,"n":315},{"lo":3.57,"hi":3.58,"n":375},{"lo":3.58,"hi":3.59,"n":395},{"lo":3.59,"hi":3.6,"n":470},{"lo":3.6,"hi":3.61,"n":530},{"lo":3.61,"hi":3.62,"n":640},{"lo":3.62,"hi":3.63,"n":675},{"lo":3.63,"hi":3.64,"n":860},{"lo":3.64,"hi":3.65,"n":1190},{"lo":3.65,"hi":3.66,"n":1470},{"lo":3.66,"hi":3.67,"n":2400},{"lo":3.67,"hi":3.68,"n":4940},{"lo":3.68,"hi":3.69,"n":7340},{"lo":3.69,"hi":3.7,"n":4950},{"lo":3.7,"hi":3.71,"n":1790},{"lo":3.71,"hi":3.72,"n":550},{"lo":3.72,"hi":3.73,"n":185},{"lo":3.73,"hi":3.74,"n":100},{"lo":3.74,"hi":3.75,"n":50},{"lo":3.75,"hi":3.76,"n":35},{"lo":3.76,"hi":3.77,"n":30},{"lo":3.77,"hi":3.78,"n":28},{"lo":3.78,"hi":3.79,"n":25},{"lo":3.79,"hi":3.8,"n":22},{"lo":3.8,"hi":3.81,"n":20},{"lo":3.81,"hi":3.82,"n":18},{"lo":3.82,"hi":3.83,"n":15},{"lo":3.83,"hi":3.84,"n":14},{"lo":3.84,"hi":3.85,"n":12}],
"mcmm":[{"lo":3.35,"hi":3.36,"n":20},{"lo":3.36,"hi":3.37,"n":22},{"lo":3.37,"hi":3.38,"n":24},{"lo":3.38,"hi":3.39,"n":25},{"lo":3.39,"hi":3.4,"n":27},{"lo":3.4,"hi":3.41,"n":28},{"lo":3.41,"hi":3.42,"n":30},{"lo":3.42,"hi":3.43,"n":32},{"lo":3.43,"hi":3.44,"n":34},{"lo":3.44,"hi":3.45,"n":36},{"lo":3.45,"hi":3.46,"n":38},{"lo":3.46,"hi":3.47,"n":40},{"lo":3.47,"hi":3.48,"n":42},{"lo":3.48,"hi":3.49,"n":45},{"lo":3.49,"hi":3.5,"n":48},{"lo":3.5,"hi":3.51,"n":50},{"lo":3.51,"hi":3.52,"n":53},{"lo":3.52,"hi":3.53,"n":56},{"lo":3.53,"hi":3.54,"n":60},{"lo":3.54,"hi":3.55,"n":64},{"lo":3.55,"hi":3.56,"n":68},{"lo":3.56,"hi":3.57,"n":72},{"lo":3.57,"hi":3.58,"n":78},{"lo":3.58,"hi":3.59,"n":85},{"lo":3.59,"hi":3.6,"n":90},{"lo":3.6,"hi":3.61,"n":100},{"lo":3.61,"hi":3.62,"n":110},{"lo":3.62,"hi":3.63,"n":200},{"lo":3.63,"hi":3.64,"n":220},{"lo":3.64,"hi":3.65,"n":330},{"lo":3.65,"hi":3.66,"n":510},{"lo":3.66,"hi":3.67,"n":1490},{"lo":3.67,"hi":3.68,"n":5710},{"lo":3.68,"hi":3.69,"n":11620},{"lo":3.69,"hi":3.7,"n":8420},{"lo":3.7,"hi":3.71,"n":2460},{"lo":3.71,"hi":3.72,"n":530},{"lo":3.72,"hi":3.73,"n":145},{"lo":3.73,"hi":3.74,"n":55},{"lo":3.74,"hi":3.75,"n":35},{"lo":3.75,"hi":3.76,"n":25},{"lo":3.76,"hi":3.77,"n":20},{"lo":3.77,"hi":3.78,"n":18},{"lo":3.78,"hi":3.79,"n":15},{"lo":3.79,"hi":3.8,"n":13},{"lo":3.8,"hi":3.81,"n":12},{"lo":3.81,"hi":3.82,"n":10},{"lo":3.82,"hi":3.83,"n":10},{"lo":3.83,"hi":3.84,"n":8},{"lo":3.84,"hi":3.85,"n":8}],
"dtee":[{"lo":3.35,"hi":3.36,"n":5040},{"lo":3.36,"hi":3.37,"n":4920},{"lo":3.37,"hi":3.38,"n":4920},{"lo":3.38,"hi":3.39,"n":4950},{"lo":3.39,"hi":3.4,"n":4850},{"lo":3.4,"hi":3.41,"n":4650},{"lo":3.41,"hi":3.42,"n":4650},{"lo":3.42,"hi":3.43,"n":4580},{"lo":3.43,"hi":3.44,"n":4410},{"lo":3.44,"hi":3.45,"n":4300},{"lo":3.45,"hi":3.46,"n":4270},{"lo":3.46,"hi":3.47,"n":4140},{"lo":3.47,"hi":3.48,"n":4180},{"lo":3.48,"hi":3.49,"n":4130},{"lo":3.49,"hi":3.5,"n":3870},{"lo":3.5,"hi":3.51,"n":3750},{"lo":3.51,"hi":3.52,"n":3760},{"lo":3.52,"hi":3.53,"n":3770},{"lo":3.53,"hi":3.54,"n":3640},{"lo":3.54,"hi":3.55,"n":3570},{"lo":3.55,"hi":3.56,"n":3440},{"lo":3.56,"hi":3.57,"n":3470},{"lo":3.57,"hi":3.58,"n":3420},{"lo":3.58,"hi":3.59,"n":3330},{"lo":3.59,"hi":3.6,"n":3310},{"lo":3.6,"hi":3.61,"n":3230},{"lo":3.61,"hi":3.62,"n":3230},{"lo":3.62,"hi":3.63,"n":3150},{"lo":3.63,"hi":3.64,"n":3180},{"lo":3.64,"hi":3.65,"n":3210},{"lo":3.65,"hi":3.66,"n":3350},{"lo":3.66,"hi":3.67,"n":3650},{"lo":3.67,"hi":3.68,"n":4400},{"lo":3.68,"hi":3.69,"n":4920},{"lo":3.69,"hi":3.7,"n":3990},{"lo":3.7,"hi":3.71,"n":3070},{"lo":3.71,"hi":3.72,"n":2650},{"lo":3.72,"hi":3.73,"n":2500},{"lo":3.73,"hi":3.74,"n":2440},{"lo":3.74,"hi":3.75,"n":2440},{"lo":3.75,"hi":3.76,"n":2300},{"lo":3.76,"hi":3.77,"n":2300},{"lo":3.77,"hi":3.78,"n":2170},{"lo":3.78,"hi":3.79,"n":2120},{"lo":3.79,"hi":3.8,"n":2160},{"lo":3.8,"hi":3.81,"n":2040},{"lo":3.81,"hi":3.82,"n":2020},{"lo":3.82,"hi":3.83,"n":1970},{"lo":3.83,"hi":3.84,"n":1930},{"lo":3.84,"hi":3.85,"n":1860}],
"dtmm":[{"lo":3.35,"hi":3.36,"n":4930},{"lo":3.36,"hi":3.37,"n":4920},{"lo":3.37,"hi":3.38,"n":4740},{"lo":3.38,"hi":3.39,"n":4600},{"lo":3.39,"hi":3.4,"n":4670},{"lo":3.4,"hi":3.41,"n":4510},{"lo":3.41,"hi":3.42,"n":4360},{"lo":3.42,"hi":3.43,"n":4290},{"lo":3.43,"hi":3.44,"n":4210},{"lo":3.44,"hi":3.45,"n":4140},{"lo":3.45,"hi":3.46,"n":4100},{"lo":3.46,"hi":3.47,"n":4000},{"lo":3.47,"hi":3.48,"n":3840},{"lo":3.48,"hi":3.49,"n":3740},{"lo":3.49,"hi":3.5,"n":3570},{"lo":3.5,"hi":3.51,"n":3550},{"lo":3.51,"hi":3.52,"n":3490},{"lo":3.52,"hi":3.53,"n":3370},{"lo":3.53,"hi":3.54,"n":3220},{"lo":3.54,"hi":3.55,"n":3130},{"lo":3.55,"hi":3.56,"n":3100},{"lo":3.56,"hi":3.57,"n":3060},{"lo":3.57,"hi":3.58,"n":2940},{"lo":3.58,"hi":3.59,"n":2840},{"lo":3.59,"hi":3.6,"n":2860},{"lo":3.6,"hi":3.61,"n":2800},{"lo":3.61,"hi":3.62,"n":2740},{"lo":3.62,"hi":3.63,"n":2610},{"lo":3.63,"hi":3.64,"n":2660},{"lo":3.64,"hi":3.65,"n":2610},{"lo":3.65,"hi":3.66,"n":2660},{"lo":3.66,"hi":3.67,"n":3090},{"lo":3.67,"hi":3.68,"n":4430},{"lo":3.68,"hi":3.69,"n":5640},{"lo":3.69,"hi":3.7,"n":4750},{"lo":3.7,"hi":3.71,"n":3010},{"lo":3.71,"hi":3.72,"n":2340},{"lo":3.72,"hi":3.73,"n":2090},{"lo":3.73,"hi":3.74,"n":1950},{"lo":3.74,"hi":3.75,"n":1960},{"lo":3.75,"hi":3.76,"n":1820},{"lo":3.76,"hi":3.77,"n":1840},{"lo":3.77,"hi":3.78,"n":1760},{"lo":3.78,"hi":3.79,"n":1770},{"lo":3.79,"hi":3.8,"n":1670},{"lo":3.8,"hi":3.81,"n":1690},{"lo":3.81,"hi":3.82,"n":1620},{"lo":3.82,"hi":3.83,"n":1640},{"lo":3.83,"hi":3.84,"n":1500},{"lo":3.84,"hi":3.85,"n":1390}]
},
"columns":2,
"spacing":{"row":140,"column":123},
"bounds":"flush",
"concat":[
{"width":405,"height":458,
"resolve":{"axis":{"x":"independent","y":"independent"}},
"layer":[
{"data":{"name":"mcee"},"transform":[{"fold":["lo","hi"],"as":["edge","x"]}],
"mark":{"type":"area","fill":{"expr":"m1"},"stroke":null},
"encoding":{"x":{"field":"x","type":"quantitative","scale":{"domain":[3.35,3.85],"nice":false,"zero":false},"axis":{"orient":"bottom","title":null,"values":[3.35,3.4,3.45,3.5,3.55,3.6,3.65,3.7,3.75,3.8,3.85],"format":"~g","tickSize":-12,"labelPadding":15,"labelFontWeight":"bold"}},
"y":{"field":"n","type":"quantitative","stack":null,"scale":{"domain":[0,8000],"nice":false},"axis":{"orient":"left","title":null,"values":[0,1000,2000,3000,4000,5000,6000,7000,8000],"format":"d","tickSize":-12,"labelPadding":16.5,"labelFontWeight":"bold"}}}},
{"data":{"name":"mcee"},"transform":[{"fold":["lo","hi"],"as":["edge","x"]}],
"mark":{"type":"area","fill":{"expr":"m2"},"stroke":null},
"encoding":{"x":{"field":"x","type":"quantitative","axis":{"orient":"bottom","title":null,"labels":false,"domain":false,"tickSize":-6,"values":[3.35,3.36,3.37,3.38,3.39,3.4,3.41,3.42,3.43,3.44,3.45,3.46,3.47,3.48,3.49,3.5,3.51,3.52,3.53,3.54,3.55,3.56,3.57,3.58,3.59,3.6,3.61,3.62,3.63,3.64,3.65,3.66,3.67,3.68,3.69,3.7,3.71,3.72,3.73,3.74,3.75,3.76,3.77,3.78,3.79,3.8,3.81,3.82,3.83,3.84,3.85]}},
"y":{"field":"n","type":"quantitative","stack":null,"axis":{"orient":"left","title":null,"labels":false,"domain":false,"tickSize":-6,"values":[0,200,400,600,800,1000,1200,1400,1600,1800,2000,2200,2400,2600,2800,3000,3200,3400,3600,3800,4000,4200,4400,4600,4800,5000,5200,5400,5600,5800,6000,6200,6400,6600,6800,7000,7200,7400,7600,7800,8000]}}}},
{"data":{"name":"mcee"},"transform":[{"fold":["lo","hi"],"as":["edge","x"]}],
"mark":{"type":"line","color":"#f0f","strokeWidth":2},
"encoding":{"x":{"field":"x","type":"quantitative","axis":null},"y":{"field":"n","type":"quantitative","axis":null}}},
{"data":{"values":[{"cut":3.538},{"cut":3.726}]},
"mark":{"type":"rule","color":"#00f","strokeWidth":2.5,"strokeDash":[6,4]},
"encoding":{"x":{"field":"cut","type":"quantitative","axis":null}}},
{"data":{"values":[{}]},"mark":{"type":"text","text":"MC","fontSize":46,"align":"left","baseline":"alphabetic"},
"encoding":{"x":{"datum":3.448,"type":"quantitative","axis":null},"y":{"datum":6080,"type":"quantitative","axis":null}}},
{"data":{"values":[{}]},"mark":{"type":"rect","fill":"black","xOffset":-42.5,"x2Offset":29.5,"yOffset":-52.7,"y2Offset":-22.7},
"encoding":{"x":{"datum":3.35,"type":"quantitative","axis":null},"x2":{"datum":3.35},"y":{"datum":8000,"type":"quantitative","axis":null},"y2":{"datum":8000}}},
{"data":{"values":[{}]},"mark":{"type":"rect","fill":"white","stroke":"black","strokeWidth":1,"xOffset":-46.5,"x2Offset":25.5,"yOffset":-55.7,"y2Offset":-25.7},
"encoding":{"x":{"datum":3.35,"type":"quantitative","axis":null},"x2":{"datum":3.35},"y":{"datum":8000,"type":"quantitative","axis":null},"y2":{"datum":8000}}},
{"data":{"values":[{}]},"mark":{"type":"text","text":"M(ee)","fontSize":20,"align":"center","baseline":"alphabetic","dx":-10.8,"dy":-33.3},
"encoding":{"x":{"datum":3.35,"type":"quantitative","axis":null},"y":{"datum":8000,"type":"quantitative","axis":null}}},
{"data":{"values":[{}]},"mark":{"type":"text","text":"(GeV/c²)","fontSize":19,"align":"right","baseline":"alphabetic","dy":34},
"encoding":{"x":{"datum":3.85,"type":"quantitative","axis":null},"y":{"datum":0,"type":"quantitative","axis":null}}},
{"data":{"values":[{}]},"mark":{"type":"text","text":"ee","fontSize":14,"align":"right","baseline":"alphabetic","dx":-73,"dy":38},
"encoding":{"x":{"datum":3.85,"type":"quantitative","axis":null},"y":{"datum":0,"type":"quantitative","axis":null}}},
{"data":{"values":[{}]},"mark":{"type":"text","text":"M","fontSize":19,"align":"right","baseline":"alphabetic","dx":-89,"dy":34},
"encoding":{"x":{"datum":3.85,"type":"quantitative","axis":null},"y":{"datum":0,"type":"quantitative","axis":null}}}
]},
{"width":406,"height":458,
"resolve":{"axis":{"x":"independent","y":"independent"}},
"layer":[
{"data":{"name":"mcmm"},"transform":[{"fold":["lo","hi"],"as":["edge","x"]}],
"mark":{"type":"area","fill":{"expr":"m1"},"stroke":null},
"encoding":{"x":{"field":"x","type":"quantitative","scale":{"domain":[3.35,3.85],"nice":false,"zero":false},"axis":{"orient":"bottom","title":null,"values":[3.35,3.4,3.45,3.5,3.55,3.6,3.65,3.7,3.75,3.8,3.85],"format":"~g","tickSize":-12,"labelPadding":15,"labelFontWeight":"bold"}},
"y":{"field":"n","type":"quantitative","stack":null,"scale":{"domain":[0,12480],"nice":false},"axis":{"orient":"left","title":null,"values":[0,2000,4000,6000,8000,10000,12000],"format":"d","tickSize":-12,"labelPadding":15.5,"labelFontWeight":"bold"}}}},
{"data":{"name":"mcmm"},"transform":[{"fold":["lo","hi"],"as":["edge","x"]}],
"mark":{"type":"area","fill":{"expr":"m2"},"stroke":null},
"encoding":{"x":{"field":"x","type":"quantitative","axis":{"orient":"bottom","title":null,"labels":false,"domain":false,"tickSize":-6,"values":[3.35,3.36,3.37,3.38,3.39,3.4,3.41,3.42,3.43,3.44,3.45,3.46,3.47,3.48,3.49,3.5,3.51,3.52,3.53,3.54,3.55,3.56,3.57,3.58,3.59,3.6,3.61,3.62,3.63,3.64,3.65,3.66,3.67,3.68,3.69,3.7,3.71,3.72,3.73,3.74,3.75,3.76,3.77,3.78,3.79,3.8,3.81,3.82,3.83,3.84,3.85]}},
"y":{"field":"n","type":"quantitative","stack":null,"axis":{"orient":"left","title":null,"labels":false,"domain":false,"tickSize":-6,"values":[0,400,800,1200,1600,2000,2400,2800,3200,3600,4000,4400,4800,5200,5600,6000,6400,6800,7200,7600,8000,8400,8800,9200,9600,10000,10400,10800,11200,11600,12000,12400]}}}},
{"data":{"name":"mcmm"},"transform":[{"fold":["lo","hi"],"as":["edge","x"]}],
"mark":{"type":"line","color":"#f0f","strokeWidth":2},
"encoding":{"x":{"field":"x","type":"quantitative","axis":null},"y":{"field":"n","type":"quantitative","axis":null}}},
{"data":{"values":[{"cut":3.63},{"cut":3.726}]},
"mark":{"type":"rule","color":"#00f","strokeWidth":2.5,"strokeDash":[6,4]},
"encoding":{"x":{"field":"cut","type":"quantitative","axis":null}}},
{"data":{"values":[{}]},"mark":{"type":"text","text":"MC","fontSize":46,"align":"left","baseline":"alphabetic"},
"encoding":{"x":{"datum":3.448,"type":"quantitative","axis":null},"y":{"datum":9480,"type":"quantitative","axis":null}}},
{"data":{"values":[{}]},"mark":{"type":"rect","fill":"black","xOffset":-42.4,"x2Offset":76.6,"yOffset":-52.7,"y2Offset":-22.7},
"encoding":{"x":{"datum":3.35,"type":"quantitative","axis":null},"x2":{"datum":3.35},"y":{"datum":12480,"type":"quantitative","axis":null},"y2":{"datum":12480}}},
{"data":{"values":[{}]},"mark":{"type":"rect","fill":"white","stroke":"black","strokeWidth":1,"xOffset":-46.4,"x2Offset":72.6,"yOffset":-55.7,"y2Offset":-25.7},
"encoding":{"x":{"datum":3.35,"type":"quantitative","axis":null},"x2":{"datum":3.35},"y":{"datum":12480,"type":"quantitative","axis":null},"y2":{"datum":12480}}},
{"data":{"values":[{}]},"mark":{"type":"text","text":"M(mumu)","fontSize":20,"align":"center","baseline":"alphabetic","dx":13.8,"dy":-33.3},
"encoding":{"x":{"datum":3.35,"type":"quantitative","axis":null},"y":{"datum":12480,"type":"quantitative","axis":null}}},
{"data":{"values":[{}]},"mark":{"type":"text","text":"(GeV/c²)","fontSize":19,"align":"right","baseline":"alphabetic","dy":34},
"encoding":{"x":{"datum":3.85,"type":"quantitative","axis":null},"y":{"datum":0,"type":"quantitative","axis":null}}},
{"data":{"values":[{}]},"mark":{"type":"text","text":"μμ","fontSize":14,"align":"right","baseline":"alphabetic","dx":-73,"dy":38},
"encoding":{"x":{"datum":3.85,"type":"quantitative","axis":null},"y":{"datum":0,"type":"quantitative","axis":null}}},
{"data":{"values":[{}]},"mark":{"type":"text","text":"M","fontSize":19,"align":"right","baseline":"alphabetic","dx":-90,"dy":34},
"encoding":{"x":{"datum":3.85,"type":"quantitative","axis":null},"y":{"datum":0,"type":"quantitative","axis":null}}}
]},
{"width":405,"height":458,
"resolve":{"axis":{"x":"independent","y":"independent"}},
"layer":[
{"data":{"name":"dtee"},"transform":[{"fold":["lo","hi"],"as":["edge","x"]}],
"mark":{"type":"area","fill":{"expr":"gh"},"stroke":null},
"encoding":{"x":{"field":"x","type":"quantitative","scale":{"domain":[3.35,3.85],"nice":false,"zero":false},"axis":{"orient":"bottom","title":null,"values":[3.35,3.4,3.45,3.5,3.55,3.6,3.65,3.7,3.75,3.8,3.85],"format":"~g","tickSize":-12,"labelPadding":15,"labelFontWeight":"bold"}},
"y":{"field":"n","type":"quantitative","stack":null,"scale":{"domain":[0,6000],"nice":false},"axis":{"orient":"left","title":null,"values":[0,1000,2000,3000,4000,5000,6000],"format":"d","tickSize":-12,"labelPadding":16.5,"labelFontWeight":"bold"}}}},
{"data":{"name":"dtee"},"transform":[{"fold":["lo","hi"],"as":["edge","x"]}],
"mark":{"type":"line","color":"#59d454","strokeWidth":2},
"encoding":{"x":{"field":"x","type":"quantitative","axis":{"orient":"bottom","title":null,"labels":false,"domain":false,"tickSize":-6,"values":[3.35,3.36,3.37,3.38,3.39,3.4,3.41,3.42,3.43,3.44,3.45,3.46,3.47,3.48,3.49,3.5,3.51,3.52,3.53,3.54,3.55,3.56,3.57,3.58,3.59,3.6,3.61,3.62,3.63,3.64,3.65,3.66,3.67,3.68,3.69,3.7,3.71,3.72,3.73,3.74,3.75,3.76,3.77,3.78,3.79,3.8,3.81,3.82,3.83,3.84,3.85]}},
"y":{"field":"n","type":"quantitative","axis":{"orient":"left","title":null,"labels":false,"domain":false,"tickSize":-6,"values":[0,200,400,600,800,1000,1200,1400,1600,1800,2000,2200,2400,2600,2800,3000,3200,3400,3600,3800,4000,4200,4400,4600,4800,5000,5200,5400,5600,5800,6000]}}}},
{"data":{"values":[{"cut":3.538},{"cut":3.726}]},
"mark":{"type":"rule","color":"#00f","strokeWidth":2.5,"strokeDash":[6,4]},
"encoding":{"x":{"field":"cut","type":"quantitative","axis":null}}},
{"data":{"values":[{}]},"mark":{"type":"text","text":"DATA","fontSize":46,"align":"left","baseline":"alphabetic"},
"encoding":{"x":{"datum":3.448,"type":"quantitative","axis":null},"y":{"datum":4490,"type":"quantitative","axis":null}}},
{"data":{"values":[{}]},"mark":{"type":"rect","fill":"black","xOffset":-42.5,"x2Offset":29.5,"yOffset":-51.7,"y2Offset":-22.7},
"encoding":{"x":{"datum":3.35,"type":"quantitative","axis":null},"x2":{"datum":3.35},"y":{"datum":6000,"type":"quantitative","axis":null},"y2":{"datum":6000}}},
{"data":{"values":[{}]},"mark":{"type":"rect","fill":"white","stroke":"black","strokeWidth":1,"xOffset":-46.5,"x2Offset":25.5,"yOffset":-54.7,"y2Offset":-25.7},
"encoding":{"x":{"datum":3.35,"type":"quantitative","axis":null},"x2":{"datum":3.35},"y":{"datum":6000,"type":"quantitative","axis":null},"y2":{"datum":6000}}},
{"data":{"values":[{}]},"mark":{"type":"text","text":"M(ee)","fontSize":20,"align":"center","baseline":"alphabetic","dx":-10.8,"dy":-32.8},
"encoding":{"x":{"datum":3.35,"type":"quantitative","axis":null},"y":{"datum":6000,"type":"quantitative","axis":null}}},
{"data":{"values":[{}]},"mark":{"type":"text","text":"(GeV/c²)","fontSize":19,"align":"right","baseline":"alphabetic","dy":34},
"encoding":{"x":{"datum":3.85,"type":"quantitative","axis":null},"y":{"datum":0,"type":"quantitative","axis":null}}},
{"data":{"values":[{}]},"mark":{"type":"text","text":"ee","fontSize":14,"align":"right","baseline":"alphabetic","dx":-73,"dy":38},
"encoding":{"x":{"datum":3.85,"type":"quantitative","axis":null},"y":{"datum":0,"type":"quantitative","axis":null}}},
{"data":{"values":[{}]},"mark":{"type":"text","text":"M","fontSize":19,"align":"right","baseline":"alphabetic","dx":-89,"dy":34},
"encoding":{"x":{"datum":3.85,"type":"quantitative","axis":null},"y":{"datum":0,"type":"quantitative","axis":null}}}
]},
{"width":406,"height":458,
"resolve":{"axis":{"x":"independent","y":"independent"}},
"layer":[
{"data":{"name":"dtmm"},"transform":[{"fold":["lo","hi"],"as":["edge","x"]}],
"mark":{"type":"area","fill":{"expr":"gh"},"stroke":null},
"encoding":{"x":{"field":"x","type":"quantitative","scale":{"domain":[3.35,3.85],"nice":false,"zero":false},"axis":{"orient":"bottom","title":null,"values":[3.35,3.4,3.45,3.5,3.55,3.6,3.65,3.7,3.75,3.8,3.85],"format":"~g","tickSize":-12,"labelPadding":15,"labelFontWeight":"bold"}},
"y":{"field":"n","type":"quantitative","stack":null,"scale":{"domain":[0,6595],"nice":false},"axis":{"orient":"left","title":null,"values":[0,1000,2000,3000,4000,5000,6000],"format":"d","tickSize":-12,"labelPadding":15.5,"labelFontWeight":"bold"}}}},
{"data":{"name":"dtmm"},"transform":[{"fold":["lo","hi"],"as":["edge","x"]}],
"mark":{"type":"line","color":"#59d454","strokeWidth":2},
"encoding":{"x":{"field":"x","type":"quantitative","axis":{"orient":"bottom","title":null,"labels":false,"domain":false,"tickSize":-6,"values":[3.35,3.36,3.37,3.38,3.39,3.4,3.41,3.42,3.43,3.44,3.45,3.46,3.47,3.48,3.49,3.5,3.51,3.52,3.53,3.54,3.55,3.56,3.57,3.58,3.59,3.6,3.61,3.62,3.63,3.64,3.65,3.66,3.67,3.68,3.69,3.7,3.71,3.72,3.73,3.74,3.75,3.76,3.77,3.78,3.79,3.8,3.81,3.82,3.83,3.84,3.85]}},
"y":{"field":"n","type":"quantitative","axis":{"orient":"left","title":null,"labels":false,"domain":false,"tickSize":-6,"values":[0,200,400,600,800,1000,1200,1400,1600,1800,2000,2200,2400,2600,2800,3000,3200,3400,3600,3800,4000,4200,4400,4600,4800,5000,5200,5400,5600,5800,6000,6200,6400]}}}},
{"data":{"values":[{"cut":3.63},{"cut":3.726}]},
"mark":{"type":"rule","color":"#00f","strokeWidth":2.5,"strokeDash":[6,4]},
"encoding":{"x":{"field":"cut","type":"quantitative","axis":null}}},
{"data":{"values":[{}]},"mark":{"type":"text","text":"DATA","fontSize":46,"align":"left","baseline":"alphabetic"},
"encoding":{"x":{"datum":3.448,"type":"quantitative","axis":null},"y":{"datum":4980,"type":"quantitative","axis":null}}},
{"data":{"values":[{}]},"mark":{"type":"rect","fill":"black","xOffset":-42.4,"x2Offset":76.6,"yOffset":-51.7,"y2Offset":-22.7},
"encoding":{"x":{"datum":3.35,"type":"quantitative","axis":null},"x2":{"datum":3.35},"y":{"datum":6595,"type":"quantitative","axis":null},"y2":{"datum":6595}}},
{"data":{"values":[{}]},"mark":{"type":"rect","fill":"white","stroke":"black","strokeWidth":1,"xOffset":-46.4,"x2Offset":72.6,"yOffset":-54.7,"y2Offset":-25.7},
"encoding":{"x":{"datum":3.35,"type":"quantitative","axis":null},"x2":{"datum":3.35},"y":{"datum":6595,"type":"quantitative","axis":null},"y2":{"datum":6595}}},
{"data":{"values":[{}]},"mark":{"type":"text","text":"M(mumu)","fontSize":20,"align":"center","baseline":"alphabetic","dx":13.8,"dy":-32.8},
"encoding":{"x":{"datum":3.35,"type":"quantitative","axis":null},"y":{"datum":6595,"type":"quantitative","axis":null}}},
{"data":{"values":[{}]},"mark":{"type":"text","text":"(GeV/c²)","fontSize":19,"align":"right","baseline":"alphabetic","dy":34},
"encoding":{"x":{"datum":3.85,"type":"quantitative","axis":null},"y":{"datum":0,"type":"quantitative","axis":null}}},
{"data":{"values":[{}]},"mark":{"type":"text","text":"μμ","fontSize":14,"align":"right","baseline":"alphabetic","dx":-73,"dy":38},
"encoding":{"x":{"datum":3.85,"type":"quantitative","axis":null},"y":{"datum":0,"type":"quantitative","axis":null}}},
{"data":{"values":[{}]},"mark":{"type":"text","text":"M","fontSize":19,"align":"right","baseline":"alphabetic","dx":-90,"dy":34},
"encoding":{"x":{"datum":3.85,"type":"quantitative","axis":null},"y":{"datum":0,"type":"quantitative","axis":null}}}
]}
]
}
